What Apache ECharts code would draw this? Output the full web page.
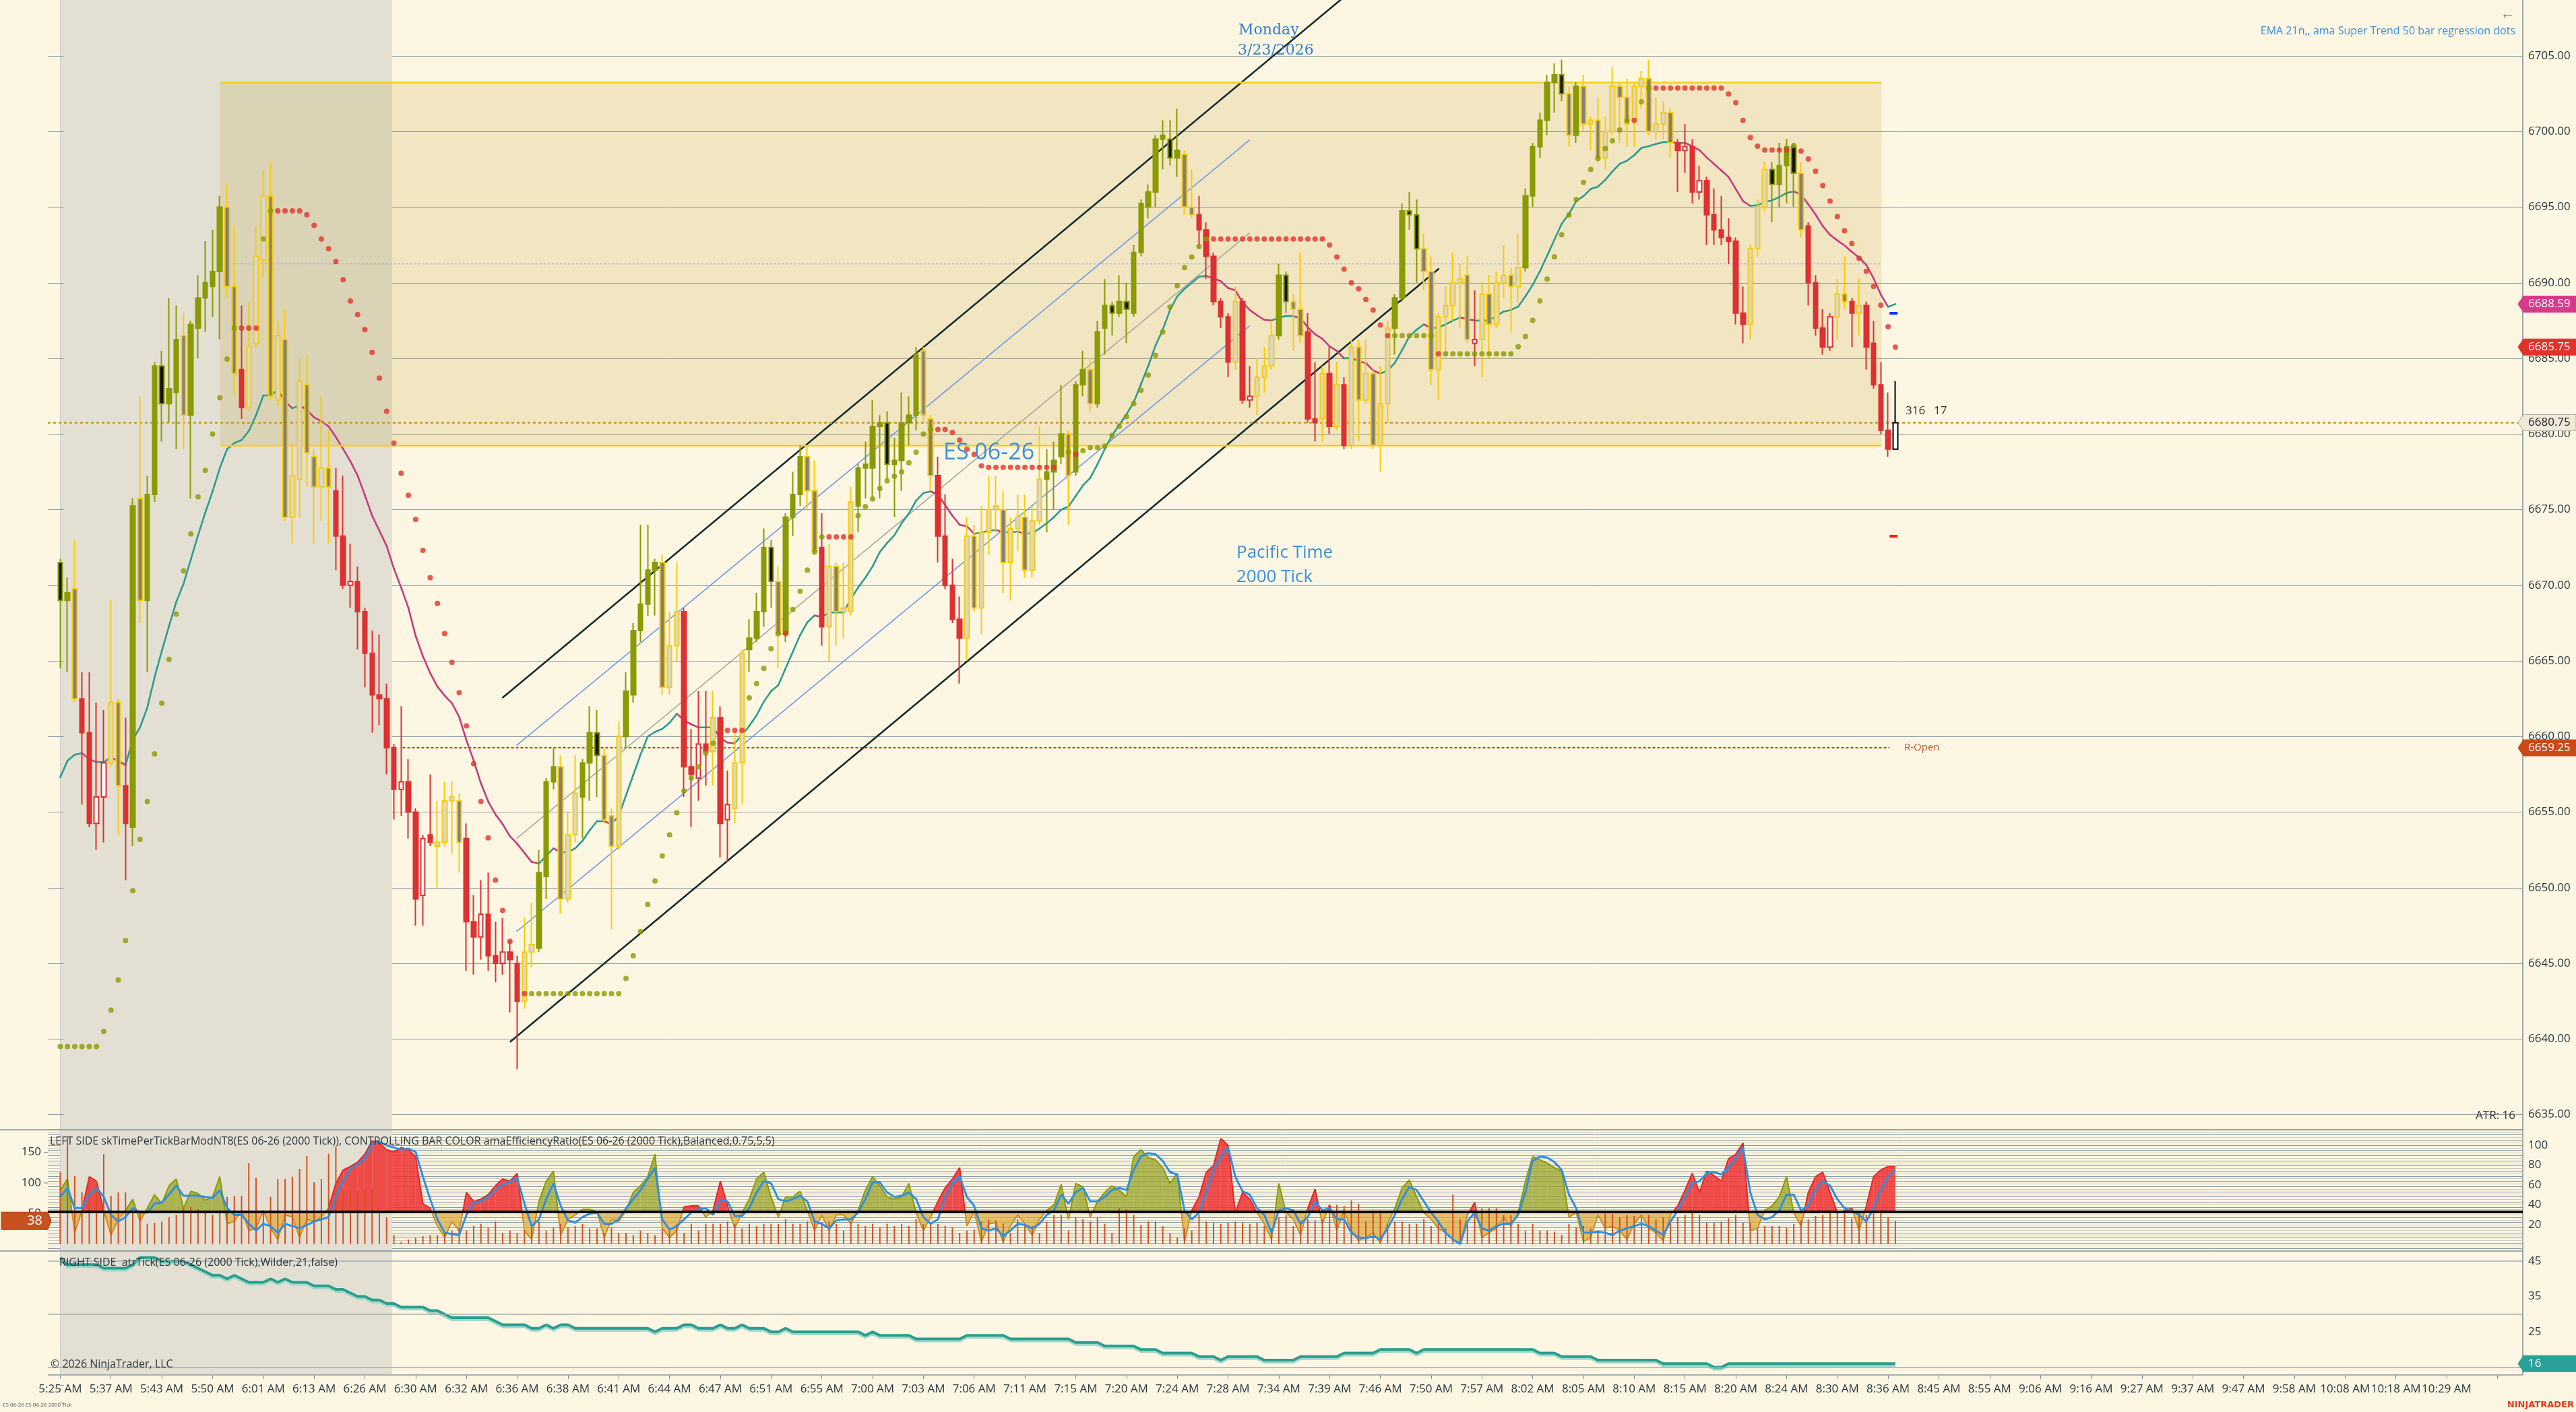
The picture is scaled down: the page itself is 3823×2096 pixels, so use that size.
<!DOCTYPE html>
<html><head><meta charset="utf-8">
<script src="https://cdn.jsdelivr.net/npm/echarts@6/dist/echarts.min.js"></script>
<style>html,body{margin:0;padding:0;background:#fdf6e3;}#c{width:3823px;height:2096px;}</style>
</head><body><div id="c"></div>
<script>
// ---------- DATA ----------
const timeLabels = ['5:25 AM','5:37 AM','5:43 AM','5:50 AM','6:01 AM','6:13 AM','6:26 AM','6:30 AM','6:32 AM','6:36 AM','6:38 AM','6:41 AM','6:44 AM','6:47 AM','6:51 AM','6:55 AM','7:00 AM','7:03 AM','7:06 AM','7:11 AM','7:15 AM','7:20 AM','7:24 AM','7:28 AM','7:34 AM','7:39 AM','7:46 AM','7:50 AM','7:57 AM','8:02 AM','8:05 AM','8:10 AM','8:15 AM','8:20 AM','8:24 AM','8:30 AM','8:36 AM','8:45 AM','8:55 AM','9:06 AM','9:16 AM','9:27 AM','9:37 AM','9:47 AM','9:58 AM','10:08 AM','10:18 AM','10:29 AM'];
const barsPerLabel = 7;
const slotCount = 340;

// [open, high, low, close]
const ohlc = [
[6671.5,6671.75,6664.5,6669.0],[6669.0,6670.5,6664.25,6669.5],[6669.75,6673.0,6662.25,6662.5],[6662.5,6664.25,6655.5,6660.25],[6660.25,6664.25,6654.0,6654.25],
[6654.25,6662.25,6652.5,6656.0],[6656.0,6661.75,6653.0,6658.25],[6658.25,6669.0,6658.0,6662.25],[6662.25,6662.5,6653.5,6656.75],[6656.75,6661.25,6650.5,6654.25],
[6654.0,6675.75,6652.75,6675.25],[6675.75,6682.5,6667.5,6669.0],[6669.0,6677.25,6664.25,6676.0],[6676.0,6684.75,6675.5,6684.5],[6684.5,6685.5,6679.5,6682.0],
[6682.0,6689.0,6680.75,6683.0],[6682.75,6688.5,6679.0,6686.25],[6686.5,6688.0,6679.0,6681.25],[6681.25,6687.5,6675.75,6687.25],[6687.0,6690.5,6685.0,6689.0],
[6689.0,6692.75,6686.75,6690.0],[6689.75,6693.5,6687.75,6690.75],[6690.75,6695.75,6686.25,6695.0],[6695.0,6696.5,6689.0,6689.75],[6689.75,6693.75,6682.5,6684.0],
[6684.25,6688.5,6681.0,6681.75],[6681.75,6688.75,6681.5,6685.75],[6686.0,6693.75,6685.75,6691.75],[6691.5,6697.5,6690.25,6695.75],[6695.75,6698.0,6682.25,6682.5],
[6682.25,6687.5,6681.75,6686.5],[6686.25,6688.25,6674.25,6674.5],[6674.5,6679.25,6672.75,6677.25],[6677.0,6685.0,6674.5,6683.5],[6683.25,6685.25,6676.5,6678.75],
[6678.5,6679.0,6672.75,6676.5],[6676.5,6682.5,6674.25,6677.75],[6677.75,6680.25,6672.75,6676.5],[6676.25,6677.75,6671.0,6673.25],[6673.25,6677.25,6669.75,6670.0],
[6670.0,6672.75,6668.5,6670.25],[6670.25,6671.25,6665.75,6668.25],[6668.25,6668.5,6663.25,6665.5],[6665.5,6667.0,6660.25,6662.75],[6662.75,6666.75,6660.75,6662.5],
[6662.5,6663.5,6657.5,6659.25],[6659.25,6659.5,6654.5,6656.5],[6656.5,6662.0,6654.75,6657.0],[6657.0,6658.5,6653.25,6655.0],[6655.0,6655.25,6647.5,6649.25],
[6649.5,6653.5,6647.5,6653.25],[6653.5,6657.5,6652.75,6653.0],[6652.75,6655.75,6650.0,6653.0],[6653.0,6657.0,6652.75,6655.75],[6655.75,6657.0,6652.25,6656.0],
[6655.75,6656.25,6651.0,6653.0],[6653.25,6654.25,6644.5,6647.75],[6647.75,6649.5,6644.25,6646.75],[6646.75,6650.5,6645.25,6648.25],[6648.25,6651.0,6644.5,6645.5],
[6645.5,6647.75,6643.75,6645.0],[6645.0,6648.0,6644.25,6645.75],[6645.75,6646.5,6641.75,6645.25],[6645.0,6645.5,6638.0,6642.5],[6642.5,6648.0,6642.0,6645.75],
[6645.75,6649.0,6644.75,6646.25],[6646.0,6652.5,6645.75,6651.0],[6650.75,6657.25,6649.25,6657.0],[6657.0,6659.25,6656.5,6658.0],[6658.0,6658.75,6648.25,6649.25],
[6649.25,6655.0,6649.0,6653.5],[6653.5,6658.75,6653.0,6656.25],[6656.0,6658.5,6653.25,6658.25],[6658.25,6662.0,6655.75,6660.25],[6660.25,6661.75,6656.0,6658.75],
[6658.75,6659.25,6654.25,6654.5],[6654.75,6655.25,6647.25,6652.75],[6652.75,6661.0,6652.5,6660.0],[6660.0,6664.25,6659.25,6663.0],[6662.75,6667.5,6662.25,6667.0],
[6667.0,6674.0,6666.25,6668.75],[6668.75,6674.0,6668.0,6671.0],[6671.0,6671.75,6668.0,6671.5],[6671.5,6672.0,6662.75,6663.25],[6663.25,6668.25,6662.75,6666.0],
[6666.0,6671.5,6665.0,6668.25],[6668.25,6668.5,6656.0,6658.0],[6658.0,6660.5,6654.0,6657.5],[6657.25,6663.0,6655.75,6659.5],[6659.5,6663.0,6656.75,6659.0],
[6659.0,6663.0,6656.75,6661.25],[6661.25,6662.0,6652.0,6654.25],[6654.5,6657.75,6651.75,6655.5],[6655.25,6660.25,6654.25,6658.25],[6658.25,6665.75,6655.5,6665.5],
[6665.75,6667.75,6664.25,6666.5],[6666.5,6669.5,6666.25,6668.25],[6668.25,6673.75,6667.25,6672.5],[6672.5,6673.0,6668.5,6670.25],[6670.25,6671.25,6664.5,6666.75],
[6666.75,6674.75,6666.25,6674.5],[6674.5,6677.5,6673.25,6676.0],[6676.0,6679.25,6675.25,6678.5],[6678.5,6679.25,6675.0,6676.25],[6676.25,6678.25,6672.0,6672.25],
[6672.5,6674.75,6666.0,6667.25],[6667.25,6672.75,6665.0,6671.25],[6671.25,6671.5,6666.0,6668.25],[6668.25,6671.5,6666.5,6668.5],[6668.25,6676.5,6668.0,6675.5],
[6675.25,6678.0,6673.5,6677.75],[6677.75,6679.5,6675.75,6678.0],[6677.75,6682.25,6675.75,6680.5],[6680.5,6681.25,6675.75,6680.75],[6680.75,6681.5,6677.0,6678.0],
[6678.0,6679.75,6674.5,6678.25],[6678.25,6682.75,6676.25,6680.75],[6680.75,6682.5,6679.25,6681.25],[6681.25,6685.75,6680.25,6685.25],[6685.5,6685.75,6680.75,6681.25],
[6681.0,6681.25,6676.25,6677.25],[6677.25,6678.5,6671.5,6673.25],[6673.25,6676.0,6669.75,6670.0],[6670.0,6671.75,6667.5,6667.75],[6667.75,6669.25,6663.5,6666.5],
[6666.5,6674.5,6665.0,6673.25],[6673.25,6674.0,6668.25,6668.5],[6668.5,6675.25,6666.75,6673.5],[6673.5,6677.25,6672.0,6675.0],[6675.0,6677.25,6673.5,6675.25],
[6675.0,6676.25,6669.5,6671.5],[6671.5,6674.5,6669.0,6673.75],[6673.75,6676.0,6672.25,6674.5],[6674.5,6676.0,6670.5,6671.0],[6671.0,6675.25,6670.5,6674.25],
[6674.25,6680.5,6674.0,6677.0],[6677.0,6679.0,6673.5,6677.5],[6677.5,6679.5,6675.0,6678.25],[6678.5,6683.25,6678.0,6680.0],[6680.0,6680.25,6674.0,6677.25],
[6677.5,6683.5,6677.25,6683.25],[6683.25,6685.5,6682.5,6684.25],[6684.25,6685.0,6681.5,6682.0],[6682.0,6687.5,6681.75,6686.75],[6687.0,6690.25,6685.25,6688.5],
[6688.5,6688.75,6686.5,6688.0],[6688.0,6690.5,6687.75,6688.75],[6688.75,6690.0,6686.0,6688.25],[6688.0,6692.5,6687.75,6692.0],[6692.0,6695.5,6691.75,6695.25],
[6695.0,6696.5,6694.25,6696.0],[6696.0,6699.75,6695.0,6699.5],[6699.5,6700.75,6697.5,6699.75],[6699.5,6700.75,6697.75,6698.25],[6698.25,6701.5,6697.0,6698.75],
[6698.5,6698.75,6694.5,6695.0],[6695.0,6697.5,6694.25,6694.5],[6694.5,6695.75,6692.25,6693.5],[6693.5,6694.0,6690.25,6691.75],[6691.75,6692.0,6688.5,6688.75],
[6688.75,6689.0,6687.0,6687.75],[6687.75,6688.0,6683.75,6684.75],[6684.75,6689.75,6684.25,6688.75],[6688.75,6689.0,6682.0,6682.25],[6682.25,6684.5,6681.75,6682.5],
[6682.5,6685.0,6681.25,6683.75],[6683.75,6685.75,6682.75,6684.5],[6684.5,6687.5,6684.25,6686.5],[6686.5,6691.25,6686.25,6690.5],[6690.5,6690.75,6688.0,6688.75],
[6688.75,6689.25,6685.5,6688.25],[6688.25,6692.0,6686.0,6686.5],[6686.75,6688.0,6680.75,6681.0],[6681.0,6684.75,6679.5,6680.75],[6681.0,6684.5,6679.5,6684.0],
[6684.0,6685.75,6680.0,6680.5],[6680.5,6684.75,6680.25,6683.25],[6683.25,6683.75,6679.0,6679.25],[6679.25,6686.25,6679.0,6685.75],[6685.75,6686.25,6679.5,6682.25],
[6682.25,6686.25,6682.0,6684.0],[6684.0,6684.25,6679.0,6679.25],[6679.25,6684.5,6677.5,6682.0],[6682.0,6687.5,6680.75,6687.0],[6687.0,6689.25,6685.25,6689.0],
[6689.0,6695.25,6688.75,6694.75],[6694.75,6696.0,6693.5,6694.5],[6694.5,6695.5,6690.0,6692.25],[6692.25,6693.25,6689.5,6690.75],[6690.75,6691.75,6683.25,6684.25],
[6684.25,6688.0,6682.25,6687.75],[6687.75,6689.75,6685.25,6688.5],[6688.5,6692.0,6687.5,6690.0],[6690.0,6691.25,6687.0,6690.25],[6690.5,6691.75,6686.0,6686.25],
[6686.0,6689.5,6684.5,6686.25],[6686.25,6690.0,6683.75,6689.25],[6689.25,6690.5,6685.0,6687.25],[6687.25,6690.75,6687.0,6690.0],[6690.0,6692.5,6689.0,6690.5],
[6690.5,6691.0,6686.75,6689.75],[6689.75,6693.25,6688.75,6691.0],[6691.0,6696.25,6690.75,6695.75],[6695.75,6699.25,6695.0,6699.0],[6699.0,6701.25,6698.25,6700.75],
[6700.75,6703.75,6699.75,6703.25],[6703.25,6704.5,6701.25,6703.75],[6703.75,6704.75,6702.0,6702.5],[6702.5,6703.0,6699.0,6699.75],[6699.75,6703.25,6699.25,6703.0],
[6703.0,6703.75,6700.0,6700.5],[6700.5,6701.0,6698.75,6700.75],[6700.75,6702.25,6698.0,6698.25],[6698.25,6701.0,6697.5,6700.0],[6700.0,6704.25,6699.75,6703.0],
[6703.0,6703.25,6699.25,6702.25],[6702.25,6703.5,6699.0,6700.5],[6700.75,6703.25,6699.0,6703.0],[6703.0,6704.0,6701.5,6703.5],[6703.5,6704.75,6699.75,6700.0],
[6700.0,6702.25,6699.5,6700.5],[6700.5,6702.0,6699.5,6701.25],[6701.25,6701.5,6698.25,6699.25],[6699.25,6699.5,6696.0,6698.75],[6698.75,6700.5,6697.25,6699.0],
[6699.0,6699.5,6695.25,6696.0],[6696.0,6697.75,6695.5,6696.75],[6696.75,6697.0,6692.5,6694.5],[6694.5,6696.25,6692.5,6693.5],[6693.5,6695.75,6692.5,6693.0],
[6693.0,6694.25,6691.25,6692.75],[6692.75,6693.0,6687.25,6688.0],[6688.0,6689.75,6686.0,6687.25],[6687.25,6692.5,6686.25,6692.25],[6692.25,6695.5,6691.75,6695.0],
[6695.0,6698.0,6694.75,6697.5],[6697.5,6698.0,6694.0,6696.5],[6696.5,6699.25,6695.0,6697.75],[6697.75,6699.5,6695.25,6699.0],[6699.0,6699.25,6695.0,6697.25],
[6697.25,6698.0,6693.0,6693.5],[6693.75,6694.0,6688.5,6690.0],[6690.0,6690.5,6686.5,6687.0],[6687.0,6688.25,6685.25,6685.75],[6685.75,6688.0,6685.5,6687.75],
[6687.75,6690.25,6686.25,6689.25],[6689.25,6691.75,6688.25,6688.75],[6688.75,6689.0,6685.75,6688.0],[6688.0,6690.25,6686.5,6688.5],[6688.5,6688.75,6684.25,6685.75],
[6686.0,6687.5,6683.0,6683.25],[6683.25,6684.75,6680.0,6680.25],[6680.25,6682.75,6678.5,6679.0],[6679.0,6683.5,6679.0,6680.75]
];
// bar colour regime: G green trend, R red trend, Y neutral, B live bar
const regime = "GGYRRRRYYR"+"GYGGGGGYGG"+"GGGYYRYYYY"+"YYYYYYYYRR"+"RRRRRRRRRR"+"RRYYYYRRRR"+"RRRRYYGGGY"+"YYGGGYYYGG"+"GGGYYYRRRR"+"YRRYYGGGGY"+
  "GGGYYRYYYY"+"GGGGGGGGGY"+"YRRRRYYYYY"+"YYYYYYGGGY"+"GGYGGGGGGG"+"GGGGGYYRRR"+"RRYRRYYYGG"+"YYRRYRYRYY"+"YYYYGGGGYY"+"YYYYYRYYYY"+
  "YYGGGGGGYG"+"YYYYYYYYYY"+"YYYRRRRRRR"+"RRRYYYGGGG"+"YRRRRYYRYR"+"RRRB";

const ema21 = [6657.3,6658.4,6658.8,6658.9,6658.5,6658.3,6658.3,6658.6,6658.4,6658.1,
6659.8,6660.6,6661.9,6663.9,6665.65,6667.3,6668.9,6670.1,6671.7,6673.3,
6674.8,6676.2,6677.75,6679.0,6679.4,6679.6,6680.2,6681.25,6682.55,6682.55,
6682.9,6682.15,6681.7,6681.9,6681.6,6681.1,6680.85,6680.5,6679.8,6679.0,
6678.2,6677.25,6675.95,6674.6,6673.6,6672.6,6671.1,6669.85,6668.5,6666.65,
6665.3,6664.2,6663.3,6662.7,6662.2,6661.3,6659.75,6658.4,6656.9,6655.7,
6654.85,6654.2,6653.4,6652.9,6652.3,6651.7,6651.6,6652.1,6652.6,6652.35,
6652.35,6652.6,6653.1,6653.8,6654.4,6654.4,6654.2,6654.75,6656.1,6657.45,
6658.8,6660.0,6660.3,6660.5,6660.9,6661.5,6661.1,6660.8,6660.6,6660.6,
6660.6,6659.9,6659.6,6659.55,6660.1,6660.7,6661.4,6662.3,6663.0,6663.4,
6664.5,6665.6,6666.7,6667.55,6668.0,6667.9,6668.2,6668.2,6668.2,6669.1,
6669.85,6670.5,6671.25,6672.2,6672.8,6673.3,6674.1,6674.75,6675.6,6676.1,
6676.2,6676.0,6675.3,6674.6,6674.0,6673.9,6673.4,6673.5,6673.6,6673.65,
6673.5,6673.5,6673.55,6673.4,6673.45,6673.75,6674.1,6674.5,6675.0,6675.2,
6675.9,6676.6,6677.1,6678.0,6679.0,6679.9,6680.6,6681.3,6682.1,6683.3,
6684.5,6685.85,6686.9,6688.2,6689.1,6689.6,6690.0,6690.4,6690.45,6690.3,
6690.1,6689.65,6689.5,6688.7,6688.2,6687.85,6687.55,6687.5,6687.7,6687.8,
6687.8,6687.65,6687.05,6686.6,6686.3,6685.8,6685.5,6685.0,6685.05,6684.8,
6684.7,6684.2,6684.0,6684.2,6684.7,6685.55,6686.45,6686.9,6687.25,6687.0,
6687.05,6687.25,6687.5,6687.7,6687.6,6687.5,6687.5,6687.5,6687.8,6688.1,
6688.2,6688.43,6689.1,6689.86,6690.76,6691.8,6692.85,6693.9,6694.55,6695.4,
6695.73,6696.2,6696.36,6696.8,6697.37,6697.86,6698.07,6698.43,6698.92,6699.03,
6699.18,6699.3,6699.3,6699.24,6699.24,6699.03,6698.77,6698.28,6697.86,6697.43,
6697.0,6696.2,6695.4,6695.09,6695.13,6695.34,6695.45,6695.66,6695.94,6696.04,
6695.83,6695.19,6694.51,6693.74,6693.17,6692.8,6692.46,6692.04,6691.67,6691.18,
6690.29,6689.22,6688.41,6688.59];

const stopDots = [6639.5,6639.5,6639.5,6639.5,6639.5,6639.5,6640.5,6641.9,6643.9,6646.5,
6649.8,6653.2,6655.7,6658.85,6662.2,6665.1,6668.1,6670.95,6673.4,6675.85,
6677.6,6680.0,6682.4,6684.95,6687.0,6687.0,6687.0,6687.0,6692.9,6694.75,
6694.75,6694.75,6694.75,6694.75,6694.5,6693.8,6692.9,6692.25,6691.4,6690.2,
6688.8,6687.9,6686.9,6685.4,6683.7,6681.5,6679.4,6677.4,6675.95,6674.35,
6672.3,6670.5,6668.8,6666.8,6664.9,6662.9,6660.7,6658.2,6655.7,6653.3,
6650.5,6648.5,6646.45,6644.5,6643.0,6643.0,6643.0,6643.0,6643.0,6643.0,
6643.0,6643.0,6643.0,6643.0,6643.0,6643.0,6643.0,6643.0,6644.0,6645.5,
6647.1,6648.9,6650.45,6652.1,6653.5,6654.95,6656.4,6657.25,6658.0,6658.9,
6659.55,6660.4,6660.4,6660.4,6660.4,6662.55,6663.5,6664.5,6665.8,6666.8,
6666.8,6668.4,6669.6,6671.0,6672.2,6673.2,6673.2,6673.2,6673.2,6673.2,
6674.6,6675.2,6675.7,6676.4,6676.9,6677.2,6677.5,6678.1,6678.8,6680.0,
6680.3,6680.3,6680.3,6680.1,6679.6,6679.0,6678.65,6677.9,6677.8,6677.8,
6677.8,6677.8,6677.8,6677.8,6677.8,6677.8,6677.8,6677.8,6678.8,6678.8,
6678.65,6678.9,6679.1,6679.1,6679.2,6679.9,6680.5,6681.15,6682.0,6682.9,
6683.9,6685.2,6686.75,6688.4,6689.8,6691.0,6691.7,6692.4,6692.9,6692.9,
6692.9,6692.9,6692.9,6692.9,6692.9,6692.9,6692.9,6692.9,6692.9,6692.9,
6692.9,6692.9,6692.9,6692.9,6692.9,6692.5,6691.7,6690.9,6690.0,6689.6,
6688.9,6688.2,6687.2,6686.5,6686.5,6686.5,6686.5,6686.5,6686.5,6686.5,
6685.3,6685.3,6685.3,6685.3,6685.3,6685.3,6685.3,6685.3,6685.3,6685.3,
6685.3,6685.77,6686.45,6687.52,6688.8,6690.25,6691.72,6693.17,6694.49,6695.5,
6696.64,6697.5,6698.22,6698.88,6699.39,6700.1,6700.74,6700.74,6701.97,6702.87,
6702.87,6702.87,6702.87,6702.87,6702.87,6702.87,6702.87,6702.87,6702.87,6702.87,
6702.48,6701.9,6700.74,6699.6,6699.03,6698.77,6698.77,6698.77,6698.77,6699.07,
6698.71,6698.18,6697.37,6696.43,6695.4,6694.38,6693.44,6692.59,6691.61,6690.76,
6689.75,6688.52,6687.09,6685.75];
// u = up-trend dot, d = down-trend dot
const stopDir = "uuuuuuuuuu"+"uuuuuuuuuu"+"uuuuuddduu"+"dddddddddd"+"dddddddddd"+"dddddddddd"+"ddddduuuuu"+"uuuuuuuuuu"+"uuuuuuuuuu"+"udddduuuuu"+
  "duuuuudddd"+"uuuuuuuuuu"+"uddddddddd"+"dddddddduu"+"duuuuuuuuu"+"uuuuuuuuud"+"dddddddddd"+"dddddddddd"+"dddduuuuuu"+"duuuuuuuuu"+
  "uuuuuuuuuu"+"uuuuuuuduu"+"dddddddddd"+"dddddddddu"+"dddddddddd"+"dddd";

// left side: time per tick histogram
const tickTime = [117.6,174.6,111.0,84.6,108.4,102.9,147.0,79.0,84.6,84.6,
51.5,51.5,33.1,34.9,36.8,44.1,47.8,58.8,60.7,57.0,
51.5,47.8,55.2,77.2,79.0,79.0,132.3,108.4,55.2,77.2,
106.6,106.6,110.3,123.1,144.1,101.1,106.6,147.8,159.5,88.2,
88.2,86.4,89.3,90.1,53.3,44.1,14.7,3.7,7.4,11.0,
12.9,14.7,14.7,18.4,22.1,25.7,22.1,29.4,33.1,27.6,
36.8,18.4,22.1,18.4,22.1,29.4,36.8,22.1,27.6,33.1,
27.6,29.4,33.1,25.7,25.7,18.4,27.6,18.4,18.4,14.7,
22.1,18.4,14.7,25.7,22.1,33.1,18.4,33.1,22.1,33.1,
33.1,33.1,36.8,33.1,25.7,33.1,29.4,33.1,33.1,33.1,
40.5,33.1,33.1,36.8,40.5,33.1,36.8,33.1,22.1,36.8,
33.1,29.4,33.1,27.6,33.1,29.4,33.1,29.4,40.5,33.1,
33.1,33.1,30.0,
27.6,18.4,22.1,23.9,36.8,40.5,38.6,33.1,18.4,40.5,
31.3,29.4,18.4,36.8,47.8,47.8,22.1,44.1,40.5,36.8,
44.1,33.1,18.4,58.8,57.0,47.8,31.3,36.8,36.8,29.4,
18.4,11.0,25.7,22.1,47.8,36.8,34.9,33.1,34.9,36.8,
34.9,33.1,34.9,29.4,25.7,44.1,47.8,29.4,36.8,40.5,
38.6,40.5,58.8,64.3,62.5,71.7,66.2,36.8,55.2,55.2,
33.1,36.8,36.8,33.1,33.1,40.5,29.4,36.8,25.7,80.9,
40.5,33.1,51.5,58.8,58.8,58.8,47.8,47.8,33.1,22.1,
33.1,22.1,22.1,20.2,14.7,33.1,27.6,29.4,25.7,22.1,
49.6,49.6,44.1,47.8,46.0,44.1,47.8,40.5,44.1,40.5,
44.1,47.8,55.2,47.8,34.9,34.9,36.8,42.3,47.8,34.9,
34.9,25.7,29.4,29.4,29.4,27.6,33.1,38.6,40.5,46.0,
47.8,55.2,53.3,53.3,42.3,53.3,47.8,62.5,55.2,44.1,
38.0];

// efficiency ratio (x100) and its signal line
const effRatio = [54.8,66.1,11.9,34.5,68.4,63.8,34.5,9.6,25.4,34.5,
45.8,23.2,36.7,50.3,41.2,59.3,66.1,36.7,53.7,51.4,
44.6,48.0,68.4,20.9,23.2,34.5,14.1,16.4,34.5,16.4,
5.1,29.9,27.7,7.3,25.4,23.2,27.7,36.7,61.6,75.1,
78.5,83.0,91.0,104.5,102.3,95.5,93.2,97.7,95.5,88.7,
41.2,36.7,18.6,7.3,23.2,14.1,52.5,43.5,45.8,50.3,
59.3,66.1,63.8,71.8,14.1,5.1,43.5,63.8,74.0,9.6,
25.4,29.9,35.6,35.6,33.3,7.3,25.4,23.2,34.5,52.5,
59.3,68.4,91.0,16.4,7.3,14.1,37.9,39.0,39.0,27.7,
34.5,63.8,39.0,16.4,32.2,45.8,66.1,72.9,48.0,27.7,
48.0,48.0,53.7,34.5,14.1,29.9,14.1,29.9,29.9,20.9,
34.5,54.8,68.4,59.3,48.0,45.8,48.0,61.6,32.2,14.1,
27.7,43.5,57.1,66.1,77.4,18.6,33.3,2.8,20.9,22.0,
2.8,18.6,29.9,20.9,9.6,25.4,34.5,40.1,60.5,25.4,
61.6,58.2,27.7,43.5,52.5,59.3,54.8,48.0,88.7,95.5,
87.6,85.3,77.4,61.6,71.8,2.8,34.5,48.0,72.9,79.7,
106.8,100.0,32.2,52.5,45.8,32.2,20.9,5.1,61.6,32.2,
25.4,9.6,36.7,55.9,20.9,40.1,14.1,34.5,14.1,4.0,
7.3,11.9,1.7,20.9,36.7,57.1,65.0,48.0,32.2,25.4,
16.4,11.9,5.1,1.7,29.9,42.4,7.3,11.9,16.4,26.6,
18.6,32.2,63.8,88.7,85.3,81.9,77.4,74.0,27.7,32.2,
2.8,7.3,29.9,16.4,18.6,14.1,5.1,20.9,29.9,16.4,
11.9,4.0,29.9,39.0,54.8,71.8,52.5,74.0,69.5,63.8,
86.4,91.0,102.3,14.1,16.4,34.5,39.0,48.0,68.4,32.2,
18.6,52.5,68.4,72.9,52.5,32.2,34.5,36.7,14.1,39.0,
68.4,75.1,78.5,78.5];
const effSignal = [48.0,57.1,36.7,36.7,50.3,57.1,48.0,29.9,23.2,27.7,
36.7,32.2,32.2,41.2,42.4,50.3,59.3,49.1,49.1,49.1,
48.0,46.9,54.8,36.7,29.9,29.9,20.9,14.1,20.9,18.6,
11.9,20.9,18.6,16.4,19.8,23.2,25.4,27.7,48.0,63.8,
76.3,80.8,86.4,101.1,103.4,100.0,97.7,95.5,96.6,93.2,
68.4,45.8,25.4,11.9,10.7,9.6,29.9,42.4,43.5,48.0,
54.8,60.5,62.7,67.2,41.2,18.6,25.4,45.8,61.6,39.0,
24.3,22.0,27.7,31.1,32.2,20.9,20.9,25.4,36.7,45.8,
54.8,66.1,77.4,25.4,15.2,18.6,25.4,32.2,35.6,36.7,
29.9,44.6,43.5,28.8,28.8,36.7,52.5,63.8,61.6,45.8,
43.5,45.8,49.1,43.5,23.2,20.9,16.4,24.3,25.4,25.4,
32.2,45.8,62.7,62.7,52.5,48.0,49.1,52.5,45.8,27.7,
20.9,25.4,48.0,61.6,68.4,48.0,39.0,16.4,14.1,16.4,
8.5,14.1,20.9,19.8,16.4,20.9,29.9,34.5,50.3,41.2,
52.5,57.1,43.5,43.5,48.0,54.8,57.1,54.8,75.1,88.7,
92.1,91.0,84.2,72.9,70.6,34.5,25.4,32.2,52.5,75.1,
88.7,97.7,68.4,53.7,50.3,36.7,29.9,11.9,34.5,36.7,
34.5,20.9,27.7,43.5,34.5,36.7,25.4,25.4,11.9,7.3,
6.2,8.5,5.1,16.4,29.9,45.8,58.2,54.8,43.5,32.2,
23.2,11.9,5.1,0.6,23.2,32.2,16.4,14.1,18.6,20.9,
20.9,29.9,52.5,84.2,88.7,87.6,83.0,75.1,50.3,36.7,
11.9,11.9,13.0,11.9,9.6,14.1,16.4,18.6,20.9,18.6,
14.1,9.6,23.2,34.5,48.0,61.6,63.8,71.8,72.9,70.6,
77.4,86.4,97.7,52.5,29.9,25.4,27.7,34.5,50.3,50.3,
34.5,39.0,54.8,63.8,59.3,45.8,36.7,34.5,29.9,23.2,
36.7,54.8,68.4,75.1];
const erBaseline = 33.3;

// right side: ATR in ticks
const atrTick = [46,44,44,44,44,44,43,43,43,43, 44,46,46,46,45,45,45,45,44,43, 42,41,41,40,41,40,39,39,39,40,
39,40,39,39,39,38,38,38,37,37, 36,35,35,34,34,33,33,32,32,32, 32,31,31,30,29,29,29,29,29,29,
28,27,27,27,27,26,26,27,26,27, 27,26,26,26,26,26,26,26,26,26, 26,26,25,26,26,26,27,27,26,26,
26,27,26,26,27,26,26,26,25,25, 26,25,25,25,25,25,25,25,25,25, 25,24,25,24,24,24,24,24,23,23,
23,23,23,23,23,24,24,24,24,24, 24,23,23,23,23,23,23,23,23,23, 22,22,22,22,21,21,21,21,21,20,
20,20,19,19,19,19,19,18,18,18, 17,18,18,18,18,18,17,17,17,17, 17,18,18,18,18,18,18,19,19,19,
19,19,20,20,20,20,20,19,20,20, 20,20,20,20,20,20,20,20,20,20, 20,20,20,20,19,19,19,18,18,18,
18,18,17,17,17,17,17,17,17,17, 17,16,16,16,16,16,16,16,15,15, 16,16,16,16,16,16,16,16,16,16,
16,16,16,16,16,16,16,16,16,16, 16,16,16,16];

// annotations (bar index, price)
const sessionShade = [0, 45.75];
const zoneBox = {x0: 22.05, x1: 251.1, lo: 6679.25, hi: 6703.25, mid: 6691.25};
const channelUpper = [[60.95, 6662.55], [180.0, 6710.1]];
const channelLower = [[62.0, 6639.8], [190.1, 6690.95]];
const regUpper = [[62.9, 6659.4], [164.0, 6699.45]];
const regMid = [[62.9, 6653.25], [164.0, 6693.3]];
const regLower = [[62.9, 6647.1], [164.0, 6687.15]];
const rOpen = {price: 6659.25, x0: 47.2, x1: 252.2};
const projMarks = {x0: 252.2, x1: 253.3, blue: 6688.0, red: 6673.25};
const tickCount = {vol: 316, left: 17};

// ---------- CHART ----------
const N = slotCount, last = ohlc.length - 1;
const cats = Array.from({length: N}, (_, i) => (i % barsPerLabel === 0 && timeLabels[i / barsPerLabel]) ? timeLabels[i / barsPerLabel] : '');
const FONT = 'Open Sans';
const OLIVE = '#8a9a00', RED = '#dd3131', YEL = '#f8cb0a';
const L0 = 84, W0 = 3660, L1 = 71, W1 = 3673;            // plot left edges
const xMinWide = -0.5 - (L0 - L1) * N / W0;              // same bar scale on wider grids
function candleStyle(r, up) {
  if (r === 'G') return up ? [OLIVE, OLIVE] : ['#141400', OLIVE];
  if (r === 'R') return up ? ['#ffffff', RED] : [RED, RED];
  if (r === 'B') return ['#ffffff', '#000000'];
  return up ? ['#d8d8d2', YEL] : ['#828078', YEL];
}
const candleData = ohlc.map((r, i) => {
  const [o, h, l, c] = r; const st = candleStyle(regime[i], c >= o);
  return {value: [o, c, l, h], itemStyle: {color: st[0], color0: st[0], borderColor: st[1], borderColor0: st[1]}};
});
const segData = arr => arr.slice(1).map((v, j) => [j, arr[j], j + 1, v]);
const xy = arr => arr.map((v, i) => [i, v]);
const hiddenX = g => ({type: 'value', gridIndex: g, min: -0.5, max: N - 0.5, show: false});
const wideX = g => ({type: 'value', gridIndex: g, min: xMinWide, max: N - 0.5, show: false});
const lblStyle = {color: '#26363f', fontSize: 17, fontFamily: FONT};
const tickStyle = {color: '#7d8d96'};
const mlBase = {symbol: ['none', 'none'], silent: true, label: {show: false}, animation: false};

function erRender(params, api) {
  const x0 = api.value(0), a = api.value(1), x1 = api.value(2), b = api.value(3), B = erBaseline;
  const kids = [];
  const upCol = i => (regime[i] === 'R' || regime[i] === 'B') ? ['rgba(240,50,50,0.86)', '#e02828'] : ['rgba(150,160,30,0.72)', '#8a9a00'];
  const dnCol = ['rgba(222,170,60,0.72)', '#c8901a'];
  const seg = (xa, va, xb, vb, above, idx) => {
    const col = above ? upCol(idx) : dnCol;
    kids.push({type: 'polygon', shape: {points: [api.coord([xa, B]), api.coord([xa, va]), api.coord([xb, vb]), api.coord([xb, B])]}, style: {fill: col[0]}});
    const p = api.coord([xa, va]), q = api.coord([xb, vb]);
    kids.push({type: 'line', shape: {x1: p[0], y1: p[1], x2: q[0], y2: q[1]}, style: {stroke: col[1], lineWidth: 2}});
  };
  if ((a >= B) === (b >= B)) seg(x0, a, x1, b, a >= B, x1);
  else { const t = (B - a) / (b - a), xm = x0 + t * (x1 - x0); seg(x0, a, xm, B, a >= B, x0); seg(xm, B, x1, b, b >= B, x1); }
  return {type: 'group', children: kids};
}

const option = {
  backgroundColor: '#fdf6e3',
  animation: false,
  textStyle: {fontFamily: FONT},
  grid: [
    {left: L0, top: 0, width: W0, height: 2041},          // 0 frame / time axis
    {left: L0, top: -29.25, width: W0, height: 1796},     // 1 price (bars)
    {left: L1, top: 1665.3, width: W1, height: 226.75},   // 2 histogram
    {left: L1, top: 1670.5, width: W1, height: 206.5},    // 3 efficiency ratio
    {left: L1, top: 1819.5, width: W1, height: 262.5},    // 4 ATR
    {left: L1, top: 1677, width: W1, height: 176},        // 5 dense rules
    {left: L1, top: -29.25, width: W1, height: 1796}      // 6 price scale + rules
  ].map(g => Object.assign({outerBoundsMode: 'none', containLabel: false, show: false}, g)),
  xAxis: [
    {type: 'category', gridIndex: 0, data: cats, boundaryGap: true, axisLine: {show: false},
     axisTick: {show: true, interval: barsPerLabel - 1, alignWithLabel: true, length: 6, lineStyle: tickStyle},
     axisLabel: Object.assign({interval: barsPerLabel - 1, margin: 13}, lblStyle), splitLine: {show: false}},
    hiddenX(0),
    {type: 'category', gridIndex: 1, data: cats, show: false},
    hiddenX(1), wideX(2), wideX(3), wideX(4),
    {type: 'value', gridIndex: 5, min: 0, max: 1, show: false},
    wideX(6)
  ],
  yAxis: [
    {type: 'value', gridIndex: 0, min: 0, max: 1, position: 'left', offset: L0 - L1, axisLine: {show: true, lineStyle: {color: '#8d9ba3', width: 1.5}}, axisTick: {show: false}, axisLabel: {show: false}, splitLine: {show: false}},
    {type: 'value', gridIndex: 0, min: 0, max: 1, position: 'right', axisLine: {show: true, lineStyle: {color: '#7d8d96', width: 1.5}}, axisTick: {show: false}, axisLabel: {show: false}, splitLine: {show: false}},
    {type: 'value', gridIndex: 1, min: 6630, max: 6710, interval: 5, show: false},
    {type: 'value', gridIndex: 2, min: -50, max: 200, interval: 50, position: 'left', axisLine: {show: false}, axisTick: {show: false},
     axisLabel: Object.assign({margin: 10, formatter: v => (v > 0 && v < 200) ? String(v) : ''}, lblStyle), splitLine: {show: false}},
    {type: 'value', gridIndex: 3, min: -20, max: 120, interval: 20, position: 'right', axisLine: {show: false}, axisTick: {show: true, length: 5, lineStyle: tickStyle},
     axisLabel: Object.assign({margin: 8, formatter: v => (v > 0 && v <= 100) ? String(v) : ''}, lblStyle), splitLine: {show: false}},
    {type: 'value', gridIndex: 4, min: 5, max: 55, interval: 10, position: 'right', axisLine: {show: false}, axisTick: {show: true, length: 5, lineStyle: tickStyle},
     minorTick: {show: true, splitNumber: 2, length: 5, lineStyle: tickStyle},
     axisLabel: Object.assign({margin: 8, formatter: v => (v >= 25 && v <= 45) ? String(v) : ''}, lblStyle), splitLine: {show: false}},
    {type: 'value', gridIndex: 5, min: 0, max: 46, interval: 1, z: 1, axisLine: {show: false}, axisTick: {show: false}, axisLabel: {show: false},
     splitLine: {show: true, lineStyle: {color: ['#8699a3', '#cdcbbd'], width: 1}}},
    {type: 'value', gridIndex: 6, min: 6630, max: 6710, interval: 5, position: 'right', z: 1, axisLine: {show: false},
     axisTick: {show: true, length: 5, lineStyle: tickStyle},
     axisLabel: Object.assign({margin: 8, showMinLabel: false, showMaxLabel: false, formatter: v => (v > 6630 && v < 6710) ? v.toFixed(2) : ''}, lblStyle),
     splitLine: {show: true, showMinLine: false, showMaxLine: false, lineStyle: {color: '#8c9ba3', width: 1}}}
  ],
  series: [
    {type: 'line', xAxisIndex: 1, yAxisIndex: 0, data: sessionShade.map(x => [x, 0]), symbol: 'none', lineStyle: {opacity: 0}, z: 0, silent: true,
     markArea: {silent: true, itemStyle: {color: '#e3e0d3'}, data: [[{xAxis: sessionShade[0]}, {xAxis: sessionShade[1]}]]}},
    {type: 'line', xAxisIndex: 3, yAxisIndex: 2, data: [[zoneBox.x0, zoneBox.mid], [zoneBox.x1, zoneBox.mid]], symbol: 'none', z: 1, silent: true,
     lineStyle: {color: '#9fb0cc', width: 1.2, type: [3, 3]},
     markArea: {silent: true, data: [[{coord: [zoneBox.x0, zoneBox.lo], itemStyle: {color: 'rgba(181,142,20,0.155)'}}, {coord: [zoneBox.x1, zoneBox.hi]}]]},
     markLine: Object.assign({}, mlBase, {data: [
       [{coord: [zoneBox.x0, zoneBox.hi], lineStyle: {color: '#f4cf22', width: 2.5, type: 'solid'}}, {coord: [zoneBox.x1, zoneBox.hi]}],
       [{coord: [zoneBox.x0, zoneBox.lo], lineStyle: {color: '#f4cf22', width: 2.5, type: 'solid'}}, {coord: [zoneBox.x1, zoneBox.lo]}],
       [{coord: [projMarks.x0, projMarks.blue], lineStyle: {color: '#1030ff', width: 4, type: 'solid'}}, {coord: [projMarks.x1, projMarks.blue]}],
       [{coord: [projMarks.x0, projMarks.red], lineStyle: {color: '#ff1a1a', width: 4, type: 'solid'}}, {coord: [projMarks.x1, projMarks.red]}]
     ]})},
    {type: 'line', xAxisIndex: 8, yAxisIndex: 7, data: [[rOpen.x0, rOpen.price], [rOpen.x1, rOpen.price]], symbol: 'none', z: 2, silent: true,
     lineStyle: {color: '#b8461e', width: 2, type: [4, 3]},
     markLine: Object.assign({}, mlBase, {data: [{yAxis: ohlc[last][3], lineStyle: {color: '#c9961a', width: 2.5, type: [4, 4]}}]})},
    {type: 'line', xAxisIndex: 3, yAxisIndex: 2, data: channelUpper, symbol: 'none', z: 3, silent: true, lineStyle: {color: '#10282a', width: 2.5}},
    {type: 'line', xAxisIndex: 3, yAxisIndex: 2, data: channelLower, symbol: 'none', z: 3, silent: true, lineStyle: {color: '#10282a', width: 2.5}},
    {type: 'line', xAxisIndex: 3, yAxisIndex: 2, data: regUpper, symbol: 'none', z: 3, silent: true, lineStyle: {color: '#6e9ae6', width: 1.6}},
    {type: 'line', xAxisIndex: 3, yAxisIndex: 2, data: regMid, symbol: 'none', z: 3, silent: true, lineStyle: {color: '#a9a7a2', width: 1.6}},
    {type: 'line', xAxisIndex: 3, yAxisIndex: 2, data: regLower, symbol: 'none', z: 3, silent: true, lineStyle: {color: '#6e9ae6', width: 1.6}},
    {type: 'custom', xAxisIndex: 3, yAxisIndex: 2, data: segData(ema21), encode: {x: [0, 2], y: [1, 3]}, z: 4, silent: true,
     renderItem: (p, api) => {
       const a = api.coord([api.value(0), api.value(1)]), b = api.coord([api.value(2), api.value(3)]);
       return {type: 'line', shape: {x1: a[0], y1: a[1], x2: b[0], y2: b[1]}, style: {stroke: api.value(3) >= api.value(1) ? '#2a9d8f' : '#c43c7c', lineWidth: 2.6, lineCap: 'round'}};
     }},
    {type: 'candlestick', xAxisIndex: 2, yAxisIndex: 2, data: candleData, barWidth: 7, z: 5, silent: true, itemStyle: {borderWidth: 2}},
    {type: 'scatter', xAxisIndex: 3, yAxisIndex: 2, data: xy(stopDots), symbol: 'circle', symbolSize: 8, z: 6, silent: true,
     itemStyle: {color: p => stopDir[p.dataIndex] === 'u' ? '#8c9a00' : '#e0352a'}},
    {type: 'bar', xAxisIndex: 4, yAxisIndex: 3, data: xy(tickTime), barWidth: 2, z: 3, silent: true, itemStyle: {color: '#d4501e'}},
    {type: 'custom', xAxisIndex: 5, yAxisIndex: 4, data: segData(effRatio), encode: {x: [0, 2], y: [1, 3]}, z: 3, silent: true, renderItem: erRender},
    {type: 'line', xAxisIndex: 5, yAxisIndex: 4, data: xy(effSignal), symbol: 'none', z: 4, silent: true, lineStyle: {color: '#2e8fe0', width: 3},
     markLine: Object.assign({}, mlBase, {data: [{yAxis: erBaseline, lineStyle: {color: '#000000', width: 4, type: 'solid'}}]})},
    {type: 'line', xAxisIndex: 6, yAxisIndex: 5, data: xy(atrTick), symbol: 'none', z: 4, silent: true,
     lineStyle: {color: '#2a9d8f', width: 4, shadowColor: '#9fd8c9', shadowOffsetY: 3, shadowBlur: 0},
     markLine: Object.assign({}, mlBase, {data: [45, 30, 15].map(v => ({yAxis: v, lineStyle: {color: '#a3acae', width: 1.5, type: 'solid'}}))})}
  ]
};

const chart = echarts.init(document.getElementById('c'), null, {renderer: 'canvas', width: 3823, height: 2096});
chart.setOption(option);

// ---------- overlay texts and value tags ----------
const G = [];
function txt(s, x, y, font, fill, align) {
  G.push({type: 'text', z: 120, x: x, y: y, style: {text: s, font: font, fill: fill, align: align || 'left', textAlign: align || 'left', verticalAlign: 'middle', textVerticalAlign: 'middle'}});
}
function hline(x1, x2, y, col, w) { G.push({type: 'line', z: 90, shape: {x1: x1, y1: y, x2: x2, y2: y}, style: {stroke: col, lineWidth: w}}); }
function tag(y, s, bg, fg, stroke) {
  G.push({type: 'polygon', z: 110, shape: {points: [[3737, y], [3745, y - 12], [3823, y - 12], [3823, y + 12], [3745, y + 12]]}, style: {fill: bg, stroke: stroke || bg, lineWidth: 1}});
  G.push({type: 'text', z: 121, x: 3752, y: y, style: {text: s, font: '17px "Open Sans"', fill: fg, align: 'left', textAlign: 'left', verticalAlign: 'middle', textVerticalAlign: 'middle'}});
}
const py = (ax, v) => chart.convertToPixel({yAxisIndex: ax}, v);
hline(0, 3744, 1677, '#7d8d96', 1.5);
hline(0, 3744, 1857, '#7d8d96', 1.5);
hline(71, 3744, 2041, '#a5b0b5', 2);
[50, 100, 150].forEach(v => { const y = py(3, v); G.push({type: 'line', z: 90, shape: {x1: 65, y1: y, x2: 71, y2: y}, style: {stroke: '#7d8d96', lineWidth: 1}}); });
const sans = s => s + 'px "Open Sans"';
txt('Monday', 1838, 45, '22px "DejaVu Serif"', '#2f7fcf');
txt('3/23/2026', 1837, 75, '22px "DejaVu Serif"', '#2f7fcf');
txt('EMA 21n,, ama Super Trend 50 bar regression dots', 3733, 46, sans(16), '#3b8fe0', 'right');
txt('\u2190', 3722, 21, sans(22), '#6b7378', 'center');
txt('ES 06-26', 1400, 672, sans(34), '#3a90dc');
txt('Pacific Time', 1835, 821, sans(26), '#3a90dc');
txt('2000 Tick', 1835, 857, sans(26), '#3a90dc');
txt(String(tickCount.vol), 2828, 610, sans(17), '#333333');
txt(String(tickCount.left), 2870, 610, sans(17), '#333333');
txt('R-Open', 2826, py(2, rOpen.price), sans(15), '#c8552c');
txt('ATR: ' + atrTick[last], 3733, 1656, sans(17), '#333333', 'right');
txt('LEFT SIDE skTimePerTickBarModNT8(ES 06-26 (2000 Tick)), CONTROLLING BAR COLOR amaEfficiencyRatio(ES 06-26 (2000 Tick),Balanced,0.75,5,5)', 74, 1694, sans(16), '#27363e');
txt('RIGHT SIDE  atrTick(ES 06-26 (2000 Tick),Wilder,21,false)', 88, 1874, sans(16), '#27363e');
txt('\u00a9 2026 NinjaTrader, LLC', 75, 2025, sans(16), '#27363e');
txt('NINJATRADER', 3820, 2086, 'bold 13px "DejaVu Sans"', '#e63c1e', 'right');
txt('ES 06-26 ES 06-26 2000 Tick', 4, 2086, sans(8), '#555555');
tag(py(2, ema21[last]), ema21[last].toFixed(2), '#d63a8a', '#ffffff');
tag(py(2, stopDots[last]), stopDots[last].toFixed(2), '#e0322c', '#ffffff');
tag(py(2, ohlc[last][3]), ohlc[last][3].toFixed(2), '#efe9da', '#222222', '#a8a8a0');
tag(py(2, rOpen.price), rOpen.price.toFixed(2), '#c94a18', '#ffffff');
tag(py(5, atrTick[last]), String(atrTick[last]), '#2aa198', '#ffffff');
const hy = py(3, tickTime[last]);
G.push({type: 'polygon', z: 110, shape: {points: [[2, hy - 13], [71, hy - 13], [76, hy], [71, hy + 13], [2, hy + 13]]}, style: {fill: '#c8501e', stroke: '#a84015', lineWidth: 1}});
txt(String(Math.round(tickTime[last])), 63, hy, sans(20), '#ffffff', 'right');
const lens = [ohlc.length, regime.length, ema21.length, stopDots.length, stopDir.length, tickTime.length, effRatio.length, effSignal.length, atrTick.length];
if (lens.some(l => l !== 254)) txt('LEN ' + lens.join(','), 1500, 1300, sans(30), '#ff0000');
chart.setOption({graphic: G});
</script>
</body></html>
